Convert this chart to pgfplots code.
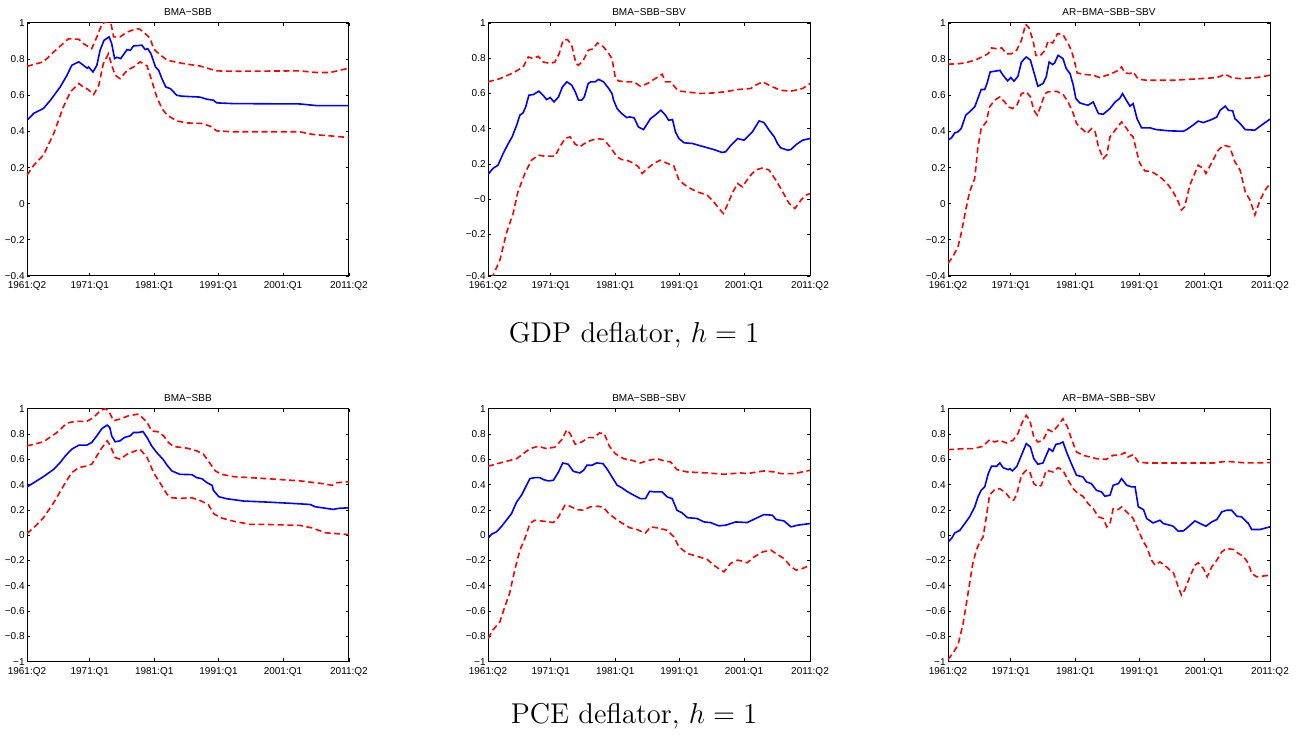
\documentclass[border=0pt]{standalone}
\usepackage{fontspec}
\newfontfamily\axfont{Liberation Sans}
\usepackage{pgfplots}
\pgfplotsset{compat=1.18}
\pgfplotsset{
  panel/.style={
    scale only axis, width=161pt, height=126.5pt, anchor=south west,
    xmin=1961.25, xmax=2011.25,
    xtick={1961.25,1971,1981,1991,2001,2011.25},
    xticklabels={1961:Q2,1971:Q1,1981:Q1,1991:Q1,2001:Q1,2011:Q2},
    tick align=inside, major tick length=1.7pt,
    tick style={black, line width=0.4pt},
    axis line style={line width=0.5pt},
    ticklabel style={font=\axfont\fontsize{5}{6}\selectfont},
    xticklabel style={anchor=base, yshift=-6.4pt},
    yticklabel style={anchor=east, inner sep=0pt, xshift=-1pt},
    title style={font=\axfont\fontsize{5}{6}\selectfont, at={(0.5,1)}, anchor=base, yshift=-2.3pt},
  },
  rowA/.style={ymin=-0.4, ymax=1, ytick={-0.4,-0.2,0,0.2,0.4,0.6,0.8,1},
    yticklabels={−0.4,−0.2,0,0.2,0.4,0.6,0.8,1}},
  rowB/.style={ymin=-1, ymax=1, ytick={-1,-0.8,-0.6,-0.4,-0.2,0,0.2,0.4,0.6,0.8,1},
    yticklabels={−1,−0.8,−0.6,−0.4,−0.2,0,0.2,0.4,0.6,0.8,1}},
  bl/.style={blue, line width=0.8pt, mark=none},
  rd/.style={red, line width=0.8pt, dash pattern=on 3pt off 1.8pt, mark=none},
}
\begin{document}
\begin{tikzpicture}
\path[use as bounding box] (0,0) rectangle (652pt,369pt);

% ---------------- Row 1: GDP deflator ----------------
\begin{axis}[panel, rowA, at={(13.5pt,231pt)}, title={BMA−SBB}]
\addplot[bl] coordinates {(1961.25,0.462)(1962.3,0.50)(1963.8,0.527)(1964.9,0.573)(1966.4,0.646)(1967.45,0.71)(1968.2,0.766)(1969.3,0.785)(1970.0,0.766)(1970.6,0.75)(1970.8,0.757)(1971.5,0.729)(1972.1,0.766)(1972.6,0.849)(1973.2,0.904)(1974.0,0.923)(1974.4,0.886)(1974.85,0.803)(1975.2,0.81)(1975.8,0.803)(1976.8,0.853)(1977.3,0.849)(1977.8,0.873)(1979.1,0.877)(1979.6,0.853)(1980.0,0.858)(1980.5,0.83)(1981.2,0.757)(1981.7,0.738)(1982.2,0.692)(1982.8,0.646)(1983.5,0.637)(1984.0,0.619)(1984.5,0.60)(1985.3,0.595)(1988.1,0.59)(1989.2,0.578)(1990.2,0.573)(1990.7,0.558)(1993.3,0.554)(2003.6,0.552)(2006.2,0.543)(2011.25,0.543)};
\addplot[rd] coordinates {(1961.25,0.76)(1963.8,0.785)(1965.4,0.84)(1967.7,0.913)(1969.3,0.91)(1970.0,0.886)(1971.3,0.858)(1972.1,0.923)(1972.9,0.996)(1973.7,1.01)(1974.3,0.996)(1974.7,0.923)(1975.7,0.923)(1976.8,0.95)(1978.3,0.969)(1978.8,0.965)(1979.9,0.932)(1980.4,0.913)(1980.9,0.858)(1981.4,0.84)(1983,0.794)(1985.6,0.775)(1988.1,0.762)(1990.7,0.735)(1993.3,0.733)(2003.6,0.735)(2006.2,0.726)(2008.3,0.726)(2011.25,0.75)};
\addplot[rd] coordinates {(1961.25,0.158)(1962.3,0.213)(1963.8,0.269)(1965.4,0.388)(1966.9,0.536)(1968.0,0.619)(1969.3,0.665)(1970.0,0.646)(1970.7,0.633)(1971.6,0.604)(1972.4,0.656)(1973.1,0.775)(1973.9,0.83)(1974.4,0.766)(1974.95,0.711)(1975.7,0.692)(1976.8,0.738)(1977.8,0.757)(1978.8,0.785)(1979.9,0.762)(1980.6,0.683)(1981.4,0.591)(1982.2,0.527)(1983.0,0.49)(1984.5,0.458)(1986.1,0.447)(1988.4,0.444)(1989.7,0.429)(1990.7,0.403)(1993.3,0.398)(2003.6,0.398)(2005.7,0.383)(2008.8,0.374)(2011.25,0.366)};
\end{axis}

\begin{axis}[panel, at={(244pt,231pt)}, title={BMA−SBB−SBV},
  ymin=-0.436, ymax=1, ytick={-0.436,-0.2,0,0.2,0.4,0.6,0.8,1},
  yticklabels={−0.4,−0.2,−0,0.2,0.4,0.6,0.8,1}]
\addplot[bl] coordinates {(1961.25,0.14)(1962.0,0.174)(1962.8,0.193)(1963.6,0.259)(1964.4,0.316)(1965.0,0.354)(1965.7,0.42)(1966.2,0.477)(1966.7,0.49)(1967.1,0.524)(1967.6,0.59)(1968.3,0.594)(1969.15,0.613)(1969.8,0.59)(1970.35,0.565)(1970.9,0.577)(1971.5,0.552)(1972.2,0.58)(1972.8,0.637)(1973.5,0.666)(1974.25,0.647)(1974.8,0.609)(1975.3,0.562)(1975.8,0.562)(1976.2,0.58)(1976.8,0.656)(1977.2,0.666)(1977.9,0.666)(1978.4,0.68)(1979.2,0.666)(1980.0,0.628)(1980.5,0.6)(1980.75,0.562)(1981.3,0.514)(1982.0,0.486)(1982.8,0.463)(1983.3,0.467)(1983.95,0.461)(1984.6,0.41)(1985.4,0.395)(1986.5,0.458)(1987.2,0.477)(1988.1,0.505)(1988.8,0.477)(1989.3,0.448)(1989.9,0.452)(1990.35,0.382)(1990.9,0.344)(1991.7,0.32)(1993.0,0.316)(1994.8,0.297)(1996.3,0.282)(1997.6,0.265)(1998.15,0.269)(1998.9,0.303)(2000.0,0.344)(2001.0,0.335)(2002.3,0.382)(2003.35,0.444)(2004.1,0.435)(2004.9,0.392)(2005.7,0.354)(2006.2,0.316)(2006.7,0.291)(2007.8,0.278)(2008.3,0.282)(2009.1,0.31)(2010.1,0.335)(2011.25,0.344)};
\addplot[rd] coordinates {(1961.25,0.666)(1963.1,0.684)(1965.15,0.717)(1966.7,0.75)(1967.5,0.807)(1968.3,0.798)(1969.05,0.811)(1969.8,0.779)(1970.9,0.77)(1971.65,0.779)(1972.3,0.826)(1972.9,0.902)(1973.6,0.906)(1974.25,0.873)(1974.9,0.77)(1975.3,0.76)(1976.05,0.788)(1976.8,0.845)(1977.6,0.854)(1978.25,0.887)(1979.2,0.864)(1980.0,0.826)(1980.5,0.798)(1981.0,0.694)(1981.5,0.671)(1982.8,0.666)(1983.9,0.666)(1984.9,0.641)(1986.0,0.656)(1987.2,0.684)(1988.3,0.709)(1988.8,0.666)(1989.6,0.666)(1990.6,0.622)(1991.1,0.613)(1994.25,0.6)(1996.3,0.603)(1997.9,0.609)(2000.0,0.622)(2002.05,0.628)(2002.8,0.647)(2003.9,0.666)(2005.2,0.641)(2006.7,0.618)(2008.3,0.613)(2010.1,0.628)(2011.25,0.656)};
\addplot[rd] coordinates {(1961.25,-0.56)(1962.0,-0.436)(1963.1,-0.345)(1964.1,-0.194)(1965.15,-0.081)(1965.9,0.042)(1966.97,0.146)(1968.0,0.221)(1969.05,0.25)(1970.1,0.244)(1971.65,0.244)(1972.4,0.297)(1973.2,0.344)(1974.0,0.354)(1974.8,0.312)(1975.5,0.297)(1976.6,0.325)(1978.1,0.344)(1979.2,0.339)(1980.2,0.297)(1981.3,0.24)(1982.0,0.225)(1982.8,0.221)(1983.9,0.203)(1984.6,0.184)(1985.2,0.146)(1986.0,0.174)(1987.0,0.203)(1988.0,0.221)(1989.1,0.203)(1990.1,0.189)(1990.9,0.108)(1992.2,0.07)(1993.7,0.042)(1995.3,0.023)(1996.3,-0.015)(1997.1,-0.053)(1997.8,-0.081)(1998.4,-0.034)(1999.2,0.036)(2000.0,0.089)(2000.75,0.07)(2001.8,0.127)(2002.8,0.165)(2003.9,0.178)(2004.9,0.165)(2005.95,0.108)(2007.0,0.042)(2008.0,-0.024)(2008.9,-0.053)(2009.85,-0.005)(2010.6,0.023)(2011.25,0.032)};
\end{axis}

\begin{axis}[panel, rowA, at={(474pt,231pt)}, title={AR−BMA−SBB−SBV}]
\addplot[bl] coordinates {(1961.25,0.352)(1961.8,0.365)(1962.3,0.392)(1962.8,0.398)(1963.3,0.416)(1964.0,0.49)(1964.6,0.508)(1965.4,0.536)(1966.07,0.6)(1966.4,0.632)(1966.95,0.632)(1967.3,0.665)(1967.8,0.729)(1968.5,0.733)(1969.3,0.738)(1969.8,0.711)(1970.5,0.68)(1971.0,0.698)(1971.5,0.678)(1972.1,0.705)(1972.65,0.784)(1973.4,0.812)(1974.05,0.794)(1974.57,0.729)(1975.2,0.65)(1976.0,0.665)(1976.5,0.702)(1976.95,0.784)(1977.5,0.77)(1977.8,0.779)(1978.35,0.821)(1979.1,0.803)(1979.6,0.748)(1980.2,0.72)(1980.7,0.656)(1981.1,0.582)(1981.7,0.558)(1982.5,0.549)(1983.0,0.545)(1983.8,0.563)(1984.6,0.499)(1985.35,0.495)(1986.4,0.527)(1987.2,0.563)(1987.9,0.582)(1988.35,0.609)(1989.0,0.569)(1989.5,0.54)(1990.0,0.554)(1990.6,0.471)(1991.3,0.42)(1992.6,0.42)(1993.6,0.41)(1995.7,0.403)(1997.8,0.401)(1998.3,0.41)(1999.3,0.435)(2000.1,0.457)(2000.9,0.449)(2002.2,0.466)(2003.0,0.48)(2003.5,0.517)(2004.3,0.54)(2004.8,0.517)(2005.45,0.514)(2005.8,0.471)(2006.6,0.444)(2007.4,0.41)(2008.9,0.407)(2009.7,0.429)(2011.25,0.468)};
\addplot[rd] coordinates {(1961.25,0.772)(1963.1,0.775)(1964.4,0.784)(1965.65,0.797)(1966.7,0.816)(1967.5,0.83)(1968.0,0.862)(1968.8,0.858)(1969.6,0.862)(1970.3,0.83)(1971.1,0.83)(1971.9,0.849)(1972.65,0.904)(1973.3,0.993)(1973.8,0.974)(1974.45,0.904)(1974.9,0.821)(1975.5,0.816)(1976.3,0.849)(1976.8,0.9)(1977.5,0.889)(1978.25,0.941)(1979.1,0.936)(1979.9,0.886)(1980.4,0.849)(1980.85,0.794)(1981.3,0.724)(1982.2,0.716)(1983.8,0.711)(1984.8,0.698)(1986.4,0.716)(1987.7,0.738)(1988.2,0.757)(1988.7,0.724)(1989.5,0.72)(1990.0,0.729)(1990.8,0.689)(1992.1,0.683)(1996.2,0.683)(2000.4,0.692)(2003.0,0.698)(2004.3,0.716)(2005.3,0.698)(2006.6,0.692)(2009.2,0.698)(2011.25,0.711)};
\addplot[rd] coordinates {(1961.25,-0.33)(1962.0,-0.293)(1962.8,-0.238)(1963.3,-0.164)(1964.0,-0.035)(1964.6,0.066)(1965.4,0.14)(1965.9,0.315)(1966.4,0.416)(1967.2,0.453)(1967.7,0.536)(1968.5,0.573)(1969.3,0.591)(1970.05,0.563)(1970.6,0.536)(1971.25,0.527)(1971.9,0.54)(1972.65,0.609)(1973.4,0.619)(1974.05,0.591)(1974.57,0.517)(1975.1,0.49)(1975.6,0.536)(1976.3,0.609)(1976.8,0.619)(1978.1,0.622)(1979.1,0.606)(1979.9,0.563)(1980.7,0.499)(1981.2,0.444)(1982.0,0.416)(1982.8,0.388)(1983.55,0.416)(1984.1,0.398)(1984.6,0.315)(1985.35,0.25)(1985.9,0.269)(1986.4,0.37)(1987.4,0.416)(1988.2,0.453)(1989.0,0.416)(1989.5,0.385)(1990.0,0.37)(1990.55,0.287)(1991.05,0.223)(1991.8,0.182)(1992.9,0.177)(1994.15,0.149)(1995.2,0.116)(1996.2,0.066)(1997.0,0.011)(1997.5,-0.035)(1998.0,-0.017)(1998.8,0.103)(2000.1,0.213)(2000.9,0.195)(2001.3,0.167)(2002.4,0.241)(2003.2,0.296)(2004.0,0.324)(2005.0,0.315)(2005.8,0.232)(2006.6,0.186)(2007.4,0.066)(2008.15,0.02)(2008.9,-0.063)(2009.7,0.02)(2010.5,0.075)(2011.25,0.112)};
\end{axis}

% ---------------- Row 2: PCE deflator ----------------
\begin{axis}[panel, rowB, at={(13.5pt,38.15pt)}, title={BMA−SBB}]
\addplot[bl] coordinates {(1961.25,0.381)(1962.3,0.415)(1963.8,0.463)(1965.4,0.521)(1966.4,0.574)(1967.2,0.627)(1968.2,0.68)(1969.3,0.712)(1970.55,0.712)(1971.3,0.733)(1972.1,0.786)(1972.9,0.844)(1973.7,0.87)(1974.1,0.852)(1974.4,0.786)(1974.95,0.738)(1975.7,0.746)(1976.35,0.772)(1977.3,0.786)(1977.8,0.812)(1978.6,0.812)(1979.25,0.82)(1979.9,0.772)(1980.6,0.706)(1981.4,0.653)(1982.45,0.595)(1983.0,0.553)(1983.75,0.508)(1985.0,0.481)(1986.85,0.479)(1987.6,0.455)(1988.4,0.447)(1989.2,0.415)(1990.0,0.394)(1990.2,0.354)(1991.05,0.304)(1992.3,0.288)(1994.9,0.27)(1998.5,0.262)(2002.6,0.251)(2005.2,0.243)(2006.0,0.225)(2008.8,0.204)(2009.6,0.212)(2011.25,0.217)};
\addplot[rd] coordinates {(1961.25,0.706)(1963.8,0.738)(1965.9,0.812)(1967.45,0.886)(1968.7,0.9)(1970.55,0.9)(1971.6,0.931)(1972.6,0.984)(1973.4,1.0)(1973.9,0.984)(1974.7,0.905)(1975.7,0.918)(1977.0,0.944)(1978.6,0.958)(1979.9,0.892)(1980.6,0.825)(1981.6,0.817)(1982.45,0.786)(1983.2,0.733)(1984.0,0.701)(1986.1,0.688)(1987.6,0.667)(1988.65,0.64)(1989.4,0.587)(1990.5,0.508)(1991.5,0.481)(1993.3,0.463)(1998.5,0.447)(2003.7,0.429)(2007.3,0.407)(2008.6,0.394)(2009.35,0.415)(2011.25,0.423)};
\addplot[rd] coordinates {(1961.25,0.013)(1962.55,0.071)(1963.8,0.138)(1965.4,0.257)(1966.9,0.389)(1968.2,0.495)(1969.3,0.534)(1970.55,0.548)(1971.3,0.561)(1972.1,0.627)(1972.9,0.693)(1973.7,0.746)(1974.2,0.706)(1974.95,0.614)(1975.7,0.601)(1976.8,0.64)(1978.1,0.667)(1978.8,0.68)(1979.9,0.614)(1980.9,0.495)(1982.2,0.389)(1983.0,0.323)(1983.75,0.296)(1985.0,0.291)(1986.85,0.296)(1988.1,0.275)(1989.4,0.243)(1990.2,0.172)(1991.3,0.138)(1993.3,0.111)(1995.9,0.085)(1998.5,0.085)(2003.7,0.077)(2005.5,0.058)(2007.6,0.019)(2011.25,0.005)};
\end{axis}

\begin{axis}[panel, rowB, at={(244pt,38.15pt)}, title={BMA−SBB−SBV}]
\addplot[bl] coordinates {(1961.25,-0.026)(1961.8,0.008)(1962.55,0.026)(1963.3,0.066)(1964.1,0.118)(1964.9,0.171)(1965.7,0.263)(1966.45,0.316)(1967.1,0.382)(1967.75,0.447)(1968.5,0.455)(1969.3,0.455)(1969.9,0.439)(1970.6,0.429)(1971.4,0.434)(1972.2,0.5)(1972.85,0.571)(1973.7,0.561)(1974.5,0.505)(1975.5,0.492)(1976.1,0.513)(1976.6,0.553)(1977.4,0.553)(1978.1,0.571)(1979.1,0.566)(1979.7,0.526)(1980.5,0.461)(1981.3,0.395)(1982.0,0.376)(1982.8,0.347)(1983.9,0.316)(1984.9,0.289)(1985.7,0.289)(1986.35,0.347)(1987.2,0.342)(1988.3,0.342)(1989.05,0.303)(1989.85,0.289)(1990.6,0.197)(1991.4,0.176)(1992.2,0.139)(1993.7,0.132)(1994.8,0.105)(1995.8,0.1)(1997.1,0.074)(1998.15,0.079)(1999.7,0.105)(2001.5,0.1)(2002.8,0.132)(2004.1,0.163)(2005.4,0.158)(2006.0,0.124)(2007.2,0.113)(2008.3,0.066)(2009.3,0.079)(2011.25,0.092)};
\addplot[rd] coordinates {(1961.25,0.545)(1963.1,0.571)(1965.7,0.605)(1967.75,0.684)(1969.05,0.703)(1970.35,0.684)(1971.65,0.697)(1972.7,0.755)(1973.5,0.834)(1974.0,0.803)(1974.8,0.718)(1975.8,0.737)(1976.85,0.771)(1977.7,0.771)(1978.55,0.808)(1979.3,0.803)(1980.1,0.703)(1981.0,0.645)(1982.3,0.605)(1983.6,0.592)(1984.9,0.571)(1986.2,0.592)(1987.5,0.605)(1988.3,0.592)(1989.6,0.579)(1990.6,0.518)(1992.2,0.5)(1995.3,0.492)(1997.9,0.482)(2000.5,0.492)(2001.5,0.487)(2004.1,0.508)(2005.7,0.5)(2006.7,0.487)(2008.8,0.487)(2011.25,0.513)};
\addplot[rd] coordinates {(1961.25,-0.816)(1962.0,-0.75)(1963.1,-0.684)(1963.85,-0.566)(1964.6,-0.461)(1965.4,-0.276)(1966.2,-0.118)(1966.97,-0.026)(1967.75,0.092)(1968.5,0.118)(1969.8,0.111)(1971.4,0.1)(1972.2,0.145)(1973.2,0.237)(1974.0,0.229)(1975.0,0.203)(1976.1,0.197)(1977.1,0.224)(1978.4,0.229)(1979.2,0.218)(1980.0,0.171)(1981.0,0.132)(1982.0,0.097)(1983.3,0.058)(1984.4,0.045)(1985.2,0.026)(1985.7,0.018)(1986.5,0.066)(1987.5,0.058)(1989.1,0.039)(1990.1,-0.013)(1990.9,-0.092)(1992.2,-0.145)(1993.7,-0.166)(1995.3,-0.192)(1996.3,-0.237)(1997.4,-0.276)(1997.9,-0.289)(1998.9,-0.224)(2000.0,-0.197)(2000.75,-0.205)(2001.5,-0.218)(2002.6,-0.171)(2003.9,-0.132)(2005.2,-0.118)(2005.95,-0.145)(2007.2,-0.184)(2008.3,-0.25)(2009.1,-0.276)(2010.1,-0.263)(2011.25,-0.237)};
\end{axis}

\begin{axis}[panel, rowB, at={(474pt,38.15pt)}, title={AR−BMA−SBB−SBV}]
\addplot[bl] coordinates {(1961.25,-0.053)(1961.8,-0.026)(1962.3,0.018)(1963.1,0.039)(1963.85,0.092)(1964.6,0.145)(1965.4,0.224)(1965.9,0.303)(1966.4,0.355)(1966.95,0.382)(1967.5,0.487)(1968.0,0.545)(1968.8,0.545)(1969.3,0.571)(1969.8,0.534)(1970.6,0.518)(1970.85,0.526)(1971.25,0.508)(1971.95,0.545)(1972.65,0.632)(1973.4,0.724)(1974.05,0.697)(1974.57,0.605)(1975.2,0.561)(1976.0,0.571)(1976.5,0.632)(1976.95,0.684)(1977.5,0.663)(1978.0,0.718)(1978.6,0.724)(1979.1,0.737)(1979.75,0.645)(1980.4,0.566)(1981.2,0.474)(1982.2,0.461)(1982.75,0.421)(1983.5,0.408)(1984.3,0.355)(1985.1,0.342)(1985.6,0.308)(1986.4,0.316)(1986.9,0.395)(1987.7,0.408)(1988.2,0.447)(1989.0,0.395)(1989.75,0.382)(1990.3,0.382)(1990.8,0.224)(1991.6,0.203)(1992.1,0.132)(1993.1,0.097)(1994.15,0.118)(1994.7,0.092)(1995.7,0.079)(1996.2,0.071)(1997.0,0.032)(1997.8,0.034)(1998.55,0.066)(1999.6,0.113)(2000.4,0.092)(2001.3,0.071)(2002.2,0.105)(2003.0,0.124)(2003.75,0.184)(2004.5,0.197)(2005.3,0.197)(2006.1,0.15)(2006.85,0.145)(2007.9,0.092)(2008.4,0.045)(2009.7,0.045)(2011.25,0.066)};
\addplot[rd] coordinates {(1961.25,0.676)(1963.6,0.684)(1965.1,0.684)(1966.7,0.703)(1967.7,0.755)(1968.5,0.737)(1969.3,0.75)(1970.3,0.729)(1971.35,0.75)(1972.1,0.803)(1972.8,0.895)(1973.4,0.947)(1973.95,0.908)(1974.57,0.776)(1975.2,0.737)(1976.0,0.75)(1976.8,0.834)(1977.5,0.816)(1978.25,0.861)(1979.1,0.921)(1979.8,0.855)(1980.4,0.763)(1981.2,0.658)(1982.2,0.632)(1984.3,0.605)(1985.85,0.6)(1986.9,0.632)(1987.9,0.632)(1988.7,0.653)(1989.2,0.618)(1990.0,0.637)(1990.8,0.579)(1992.1,0.571)(1997.3,0.571)(2002.45,0.571)(2004.5,0.584)(2007.6,0.571)(2011.25,0.574)};
\addplot[rd] coordinates {(1961.25,-0.982)(1962.0,-0.934)(1962.8,-0.868)(1963.6,-0.697)(1964.35,-0.461)(1965.1,-0.224)(1965.65,-0.118)(1966.07,-0.066)(1966.7,-0.013)(1967.2,0.145)(1967.7,0.316)(1968.5,0.361)(1969.3,0.368)(1970.3,0.329)(1970.9,0.289)(1971.45,0.276)(1971.95,0.329)(1972.65,0.474)(1973.4,0.513)(1973.95,0.5)(1974.57,0.408)(1975.2,0.382)(1975.75,0.395)(1976.5,0.513)(1977.55,0.5)(1978.35,0.534)(1979.1,0.513)(1979.9,0.434)(1980.7,0.368)(1981.45,0.329)(1982.2,0.308)(1983.0,0.25)(1983.8,0.21)(1984.6,0.145)(1985.35,0.132)(1985.9,0.066)(1986.4,0.092)(1986.9,0.21)(1987.7,0.203)(1988.2,0.224)(1989.0,0.184)(1990.0,0.132)(1990.8,0.039)(1991.6,-0.053)(1992.1,-0.092)(1992.85,-0.197)(1993.4,-0.237)(1994.15,-0.211)(1994.9,-0.237)(1995.7,-0.276)(1996.2,-0.289)(1997.0,-0.408)(1997.5,-0.474)(1998.0,-0.434)(1998.8,-0.329)(1999.6,-0.237)(2000.1,-0.218)(2000.9,-0.263)(2001.5,-0.329)(2002.2,-0.25)(2003.0,-0.197)(2003.75,-0.132)(2004.5,-0.105)(2005.6,-0.113)(2006.35,-0.145)(2007.1,-0.166)(2007.9,-0.224)(2008.4,-0.303)(2009.2,-0.329)(2011.25,-0.316)};
\end{axis}

\node[anchor=base, font=\fontsize{14.3}{17}\selectfont] at (317pt,197.5pt) {GDP deflator, $h=1$};
\node[anchor=base, font=\fontsize{14.3}{17}\selectfont] at (317pt,7.5pt) {PCE deflator, $h=1$};
\end{tikzpicture}
\end{document}
